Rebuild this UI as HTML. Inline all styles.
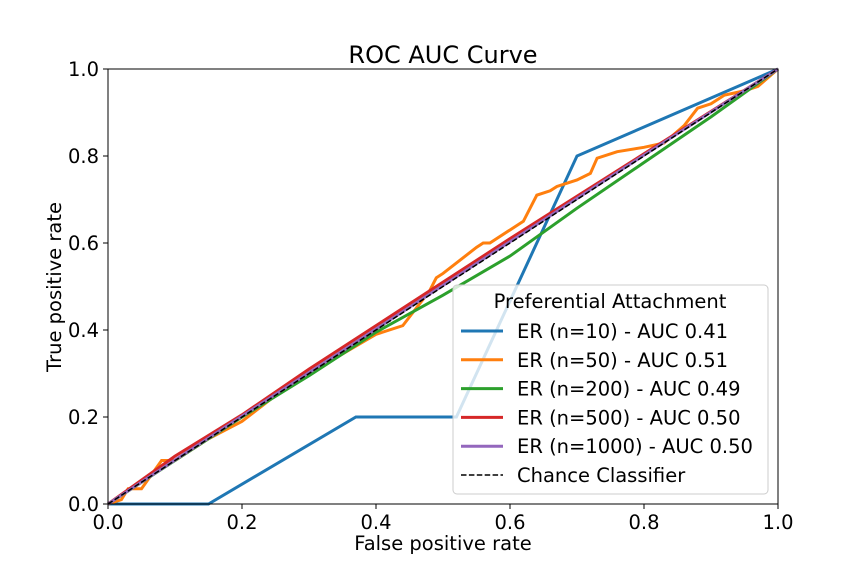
<!DOCTYPE html>
<html><head><meta charset="utf-8"><style>
body{margin:0;background:#fff}
svg{font-family:"DejaVu Sans","Liberation Sans",sans-serif}
</style></head><body>
<svg id="chart" width="864" height="576" viewBox="0 0 864 576">
<rect width="864" height="576" fill="#fff"/>
<text x="443" y="63" font-size="24" text-anchor="middle">ROC AUC Curve</text>
<g id="series"></g>
<g id="axes"></g>
<g id="legend"></g>
</svg>
<script>
const xTicks=[0,0.2,0.4,0.6,0.8,1.0];
const yTicks=[0,0.2,0.4,0.6,0.8,1.0];
const tickLabels=["0.0","0.2","0.4","0.6","0.8","1.0"];
const seriesNames=["ER (n=10) - AUC 0.41","ER (n=50) - AUC 0.51","ER (n=200) - AUC 0.49","ER (n=500) - AUC 0.50","ER (n=1000) - AUC 0.50"];
const seriesColors=["#1f77b4","#ff7f0e","#2ca02c","#d62728","#9467bd"];
const fpr10=[0,0.15,0.37,0.52,0.70,1];
const tpr10=[0,0,0.2,0.2,0.8,1];
const fpr50=[0,0.02,0.03,0.05,0.08,0.10,0.15,0.20,0.28,0.30,0.40,0.44,0.48,0.49,0.50,0.55,0.56,0.57,0.60,0.62,0.63,0.64,0.66,0.67,0.70,0.72,0.73,0.76,0.80,0.83,0.86,0.88,0.90,0.92,0.95,0.97,1];
const tpr50=[0,0.01,0.035,0.035,0.10,0.10,0.15,0.19,0.285,0.30,0.39,0.41,0.49,0.52,0.53,0.59,0.60,0.60,0.63,0.65,0.68,0.71,0.72,0.73,0.745,0.76,0.795,0.81,0.82,0.83,0.87,0.91,0.92,0.94,0.95,0.96,1];
const fpr200=[0,0.1,0.2,0.3,0.4,0.5,0.6,0.7,0.8,0.9,1];
const tpr200=[0,0.1,0.2,0.295,0.395,0.48,0.57,0.68,0.785,0.89,1];
const fpr500=[0,0.1,0.2,0.3,0.45,0.6,0.8,1];
const tpr500=[0,0.11,0.205,0.31,0.46,0.61,0.805,1];
const fpr1000=[0,0.2,0.4,0.6,0.8,1];
const tpr1000=[0,0.202,0.402,0.603,0.802,1];
const chanceX=[0,1], chanceY=[0,1];

const X0=108,X1=778,Y0=504,Y1=69;
const sx=v=>X0+(X1-X0)*v, sy=v=>Y0-(Y0-Y1)*v;
const NS="http://www.w3.org/2000/svg";
function mk(tag,attrs,parent){const e=document.createElementNS(NS,tag);for(const k in attrs)e.setAttribute(k,attrs[k]);parent.appendChild(e);return e;}
const ser=document.getElementById('series'), ax=document.getElementById('axes'), lg=document.getElementById('legend');
const all=[[fpr10,tpr10],[fpr50,tpr50],[fpr200,tpr200],[fpr500,tpr500],[fpr1000,tpr1000]];
const names=["er-n10-line","er-n50-line","er-n200-line","er-n500-line","er-n1000-line"];
all.forEach((s,i)=>{
  const p=mk('polyline',{points:s[0].map((x,j)=>sx(x)+','+sy(s[1][j])).join(' '),fill:'none',stroke:seriesColors[i],'stroke-width':3},ser);
  
  
});
const ch=mk('polyline',{points:chanceX.map((x,j)=>sx(x)+','+sy(chanceY[j])).join(' '),fill:'none',stroke:'#000','stroke-width':1.5,'stroke-dasharray':'5.5,2.4'},ser);


const fr=mk('rect',{x:X0,y:Y1,width:X1-X0,height:Y0-Y1,fill:'none',stroke:'#000','stroke-width':1},ax);


xTicks.forEach((v,i)=>{
  mk('line',{x1:sx(v),x2:sx(v),y1:Y0,y2:Y0+5,stroke:'#000'},ax);
  const t=mk('text',{x:sx(v),y:Y0+25,'font-size':19.5,'text-anchor':'middle'},ax);t.textContent=tickLabels[i];
  
  
});
yTicks.forEach((v,i)=>{
  mk('line',{x1:X0-5,x2:X0,y1:sy(v),y2:sy(v),stroke:'#000'},ax);
  const t=mk('text',{x:X0-9,y:sy(v)+7,'font-size':19.5,'text-anchor':'end'},ax);t.textContent=tickLabels[i];
  
  
});
const xt=mk('text',{x:443,y:550,'font-size':19.5,'text-anchor':'middle'},ax);xt.textContent='False positive rate';


const yt=mk('text',{x:0,y:0,'font-size':19.5,'text-anchor':'middle',transform:'translate(61,287) rotate(-90)'},ax);yt.textContent='True positive rate';


const lb=mk('rect',{x:453,y:285,width:315,height:209,rx:4,fill:'#fff','fill-opacity':0.8,stroke:'#ccc'},lg);


const lt=mk('text',{x:610,y:308,'font-size':19.5,'text-anchor':'middle'},lg);lt.textContent='Preferential Attachment';


const entries=seriesNames.concat(['Chance Classifier']);
entries.forEach((n,i)=>{
  const y=331+i*28.8;
  const a=i<5?{stroke:seriesColors[i],'stroke-width':3}:{stroke:'#000','stroke-width':1.5,'stroke-dasharray':'5.5,2.4'};
  mk('line',Object.assign({x1:461,x2:503,y1:y,y2:y},a),lg);
  const t=mk('text',{x:517,y:y+7,'font-size':19.5},lg);t.textContent=n;
  
  
});
</script>
</body></html>
